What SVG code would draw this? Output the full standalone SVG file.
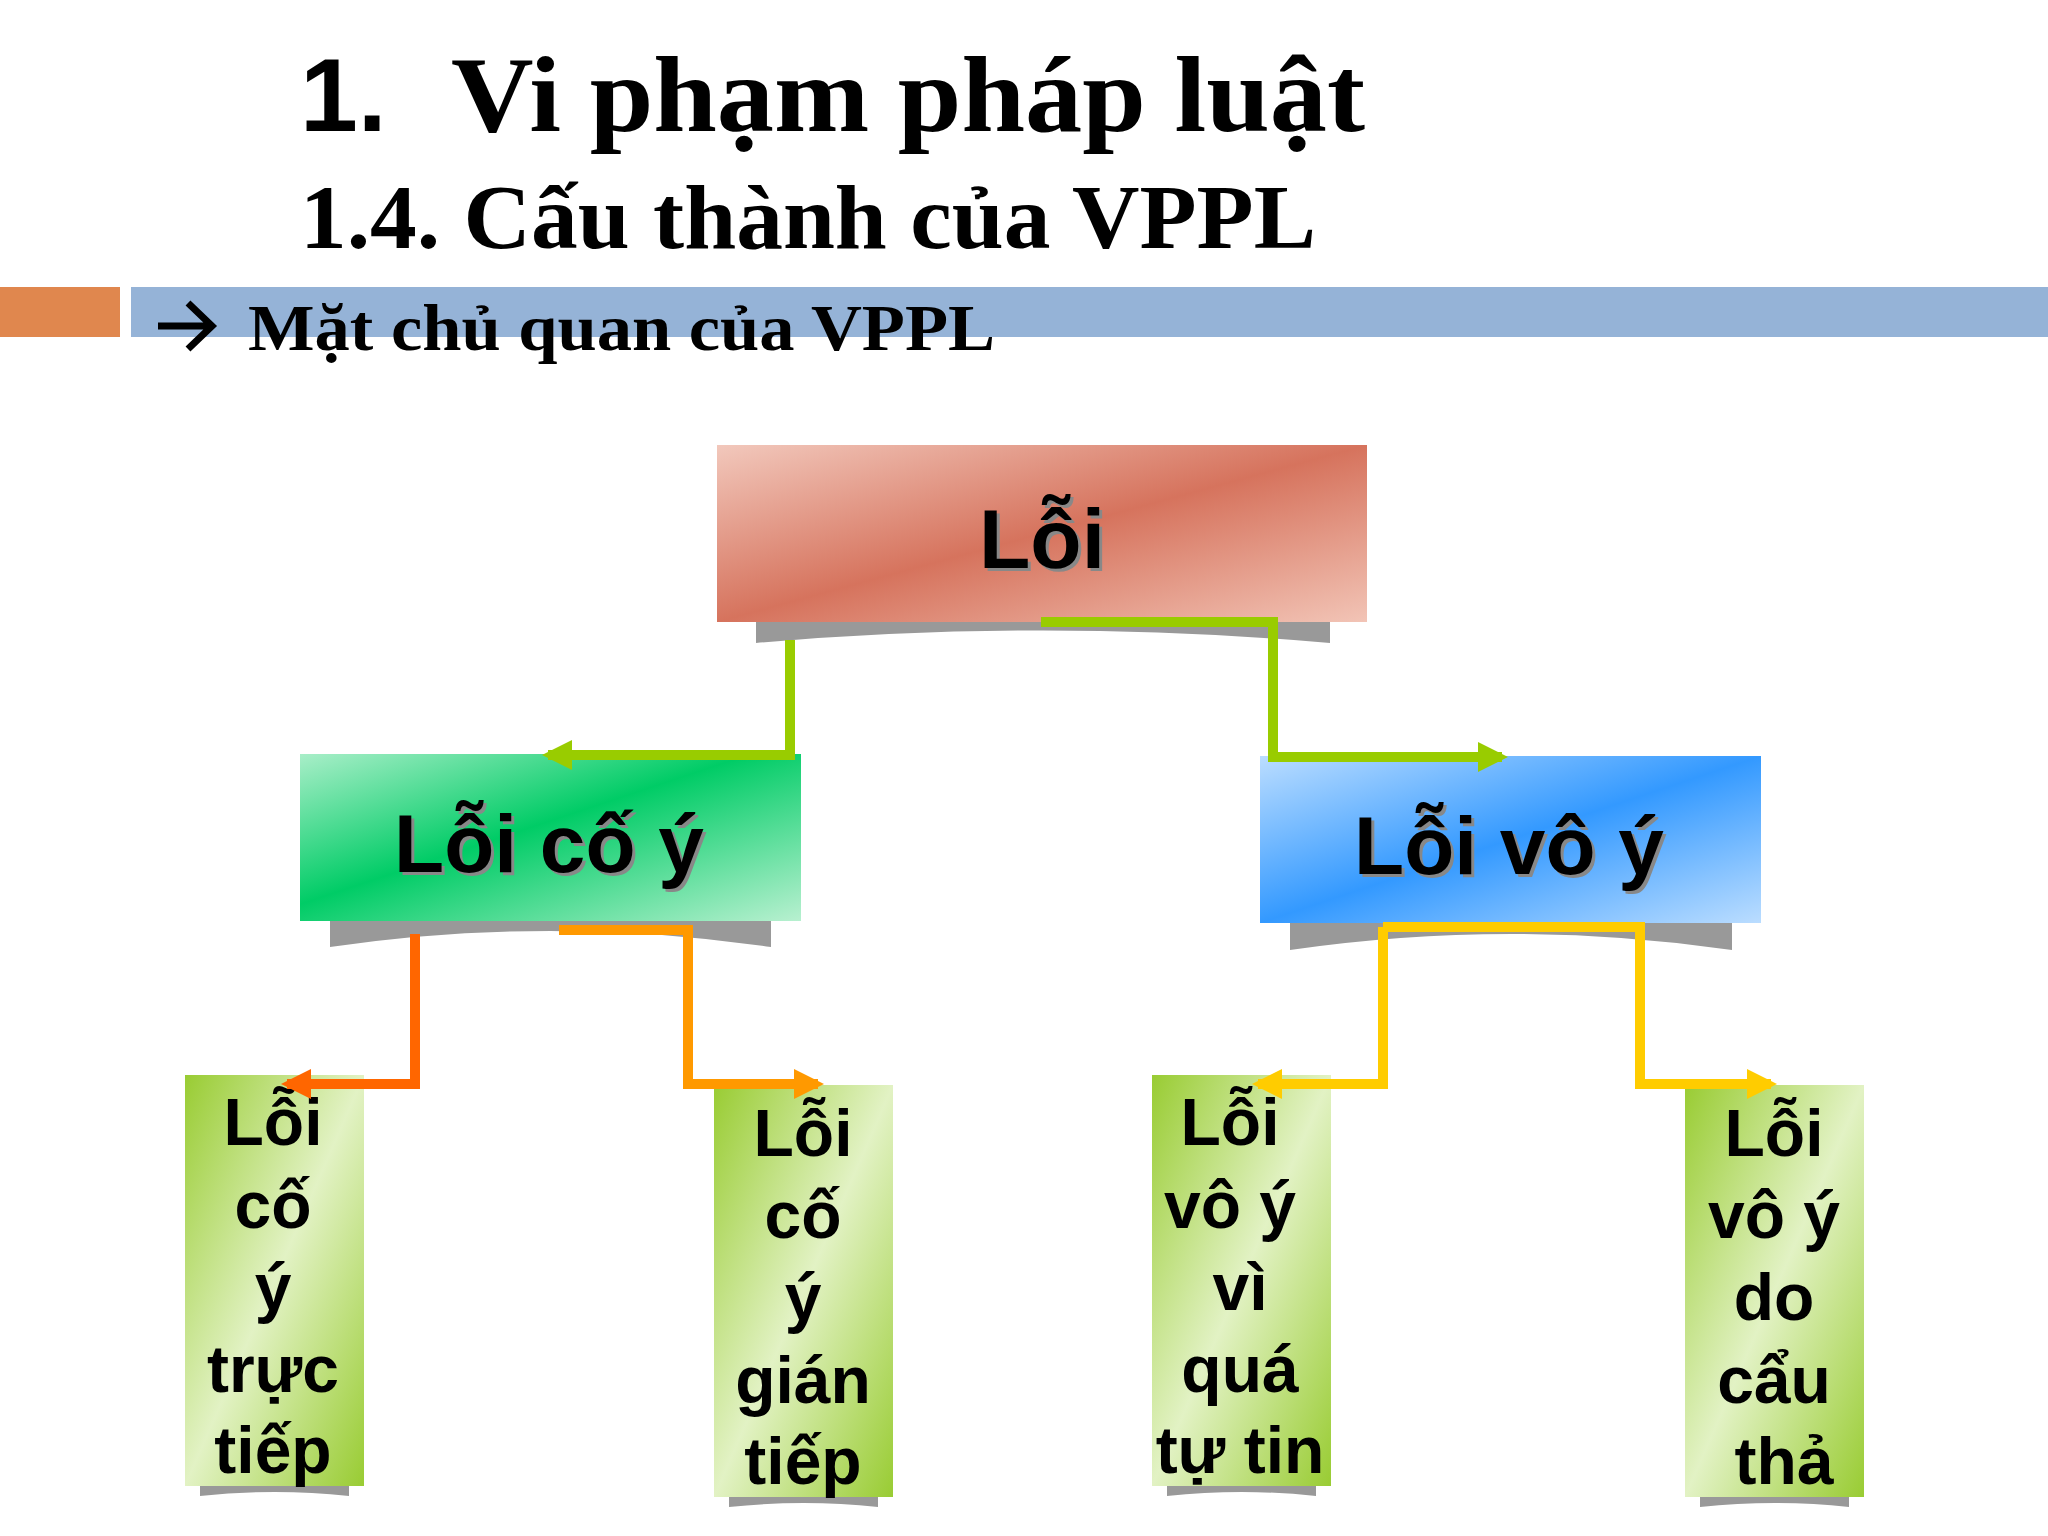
<svg xmlns="http://www.w3.org/2000/svg" width="2048" height="1536" viewBox="0 0 2048 1536">
<defs>
<linearGradient id="gRed" x1="0" y1="0" x2="1" y2="1"><stop offset="0" stop-color="#F2C8BC"/><stop offset="0.5" stop-color="#D6735D"/><stop offset="1" stop-color="#F2C4B6"/></linearGradient>
<linearGradient id="gGreen" x1="0" y1="0" x2="1" y2="1"><stop offset="0" stop-color="#A8EEC8"/><stop offset="0.45" stop-color="#00CC66"/><stop offset="1" stop-color="#B8F0D0"/></linearGradient>
<linearGradient id="gBlue" x1="0" y1="0" x2="1" y2="1"><stop offset="0" stop-color="#BBDDFF"/><stop offset="0.5" stop-color="#3399FF"/><stop offset="1" stop-color="#BBDDFF"/></linearGradient>
<linearGradient id="gLeaf" x1="0" y1="0" x2="1" y2="1"><stop offset="0" stop-color="#99CC33"/><stop offset="0.5" stop-color="#E2F2C4"/><stop offset="1" stop-color="#99CC33"/></linearGradient>
<marker id="aG" viewBox="0 0 10 10" refX="8" refY="5" markerWidth="34" markerHeight="30" markerUnits="userSpaceOnUse" orient="auto"><path d="M0,0 L10,5 L0,10 z" fill="#99CC00"/></marker>
<marker id="aO" viewBox="0 0 10 10" refX="8" refY="5" markerWidth="34" markerHeight="30" markerUnits="userSpaceOnUse" orient="auto"><path d="M0,0 L10,5 L0,10 z" fill="#FF6600"/></marker>
<marker id="aO2" viewBox="0 0 10 10" refX="8" refY="5" markerWidth="34" markerHeight="30" markerUnits="userSpaceOnUse" orient="auto"><path d="M0,0 L10,5 L0,10 z" fill="#FF9900"/></marker>
<marker id="aY" viewBox="0 0 10 10" refX="8" refY="5" markerWidth="34" markerHeight="30" markerUnits="userSpaceOnUse" orient="auto"><path d="M0,0 L10,5 L0,10 z" fill="#FFCC00"/></marker>
</defs>
<style>
.t{font-family:"Liberation Serif",serif;font-weight:bold;fill:#000}
.n{font-family:"Liberation Sans",Arial,sans-serif;font-weight:bold;fill:#000;text-anchor:middle}
.s{fill:#999}
.c{fill:none;stroke-width:10}
</style>
<rect width="2048" height="1536" fill="#fff"/>
<text x="300" y="131" font-size="104" font-family="Liberation Sans,sans-serif" font-weight="bold">1.</text>
<text class="t" x="451" y="131" font-size="108" textLength="914" lengthAdjust="spacingAndGlyphs">Vi phạm pháp luật</text>
<text class="t" x="300" y="248" font-size="90" textLength="1016" lengthAdjust="spacingAndGlyphs">1.4. Cấu thành của VPPL</text>
<rect x="0" y="287" width="120" height="50" fill="#E0874E"/>
<rect x="131" y="287" width="1917" height="50" fill="#95B3D7"/>
<path d="M158,326 L210,326 M188,303 L212,326 L188,349" fill="none" stroke="#000" stroke-width="7"/>
<text class="t" x="248" y="350" font-size="66" textLength="747" lengthAdjust="spacingAndGlyphs">Mặt chủ quan của VPPL</text>

<g id="root">
<path class="s" d="M756,643 L756,622 L1330,622 L1330,643 Q1043,618 756,643 z"/>
<rect x="717" y="445" width="650" height="177" fill="url(#gRed)"/>
<text class="n" x="1045" y="571" font-size="84" style="fill:#888">Lỗi</text>
<text class="n" x="1042" y="568" font-size="84">Lỗi</text>
</g>
<g id="coy">
<path class="s" d="M330,947 L330,921 L771,921 L771,947 Q550,915 330,947 z"/>
<rect x="300" y="754" width="501" height="167" fill="url(#gGreen)"/>
<text class="n" x="552" y="875" font-size="82" style="fill:#888">Lỗi cố ý</text>
<text class="n" x="549" y="872" font-size="82">Lỗi cố ý</text>
</g>
<g id="voy">
<path class="s" d="M1290,950 L1290,923 L1732,923 L1732,950 Q1511,918 1290,950 z"/>
<rect x="1260" y="756" width="501" height="167" fill="url(#gBlue)"/>
<text class="n" x="1512" y="877" font-size="82" style="fill:#888">Lỗi vô ý</text>
<text class="n" x="1509" y="874" font-size="82">Lỗi vô ý</text>
</g>
<g id="leaf1">
<path class="s" d="M200,1496 L200,1486 L349,1486 L349,1496 Q275,1488 200,1496 z"/>
<rect x="185" y="1075" width="179" height="411" fill="url(#gLeaf)"/>
<g class="n" font-size="66"><text x="273" y="1145">Lỗi</text><text x="273" y="1228">cố</text><text x="273" y="1310">ý</text><text x="273" y="1392">trực</text><text x="273" y="1473">tiếp</text></g>
</g>
<g id="leaf2">
<path class="s" d="M729,1507 L729,1497 L878,1497 L878,1507 Q804,1499 729,1507 z"/>
<rect x="714" y="1085" width="179" height="412" fill="url(#gLeaf)"/>
<g class="n" font-size="66"><text x="803" y="1156">Lỗi</text><text x="803" y="1238">cố</text><text x="803" y="1320">ý</text><text x="803" y="1403">gián</text><text x="803" y="1484">tiếp</text></g>
</g>
<g id="leaf3">
<path class="s" d="M1167,1496 L1167,1486 L1316,1486 L1316,1496 Q1242,1488 1167,1496 z"/>
<rect x="1152" y="1075" width="179" height="411" fill="url(#gLeaf)"/>
<g class="n" font-size="66"><text x="1230" y="1145">Lỗi</text><text x="1230" y="1228">vô ý</text><text x="1240" y="1310">vì</text><text x="1240" y="1392">quá</text><text x="1240" y="1473">tự tin</text></g>
</g>
<g id="leaf4">
<path class="s" d="M1700,1507 L1700,1497 L1849,1497 L1849,1507 Q1775,1499 1700,1507 z"/>
<rect x="1685" y="1085" width="179" height="412" fill="url(#gLeaf)"/>
<g class="n" font-size="66"><text x="1774" y="1156">Lỗi</text><text x="1774" y="1238">vô ý</text><text x="1774" y="1320">do</text><text x="1774" y="1403">cẩu</text><text x="1784" y="1484">thả</text></g>
</g>
<g id="connectors">
<path class="c" stroke="#99CC00" d="M790,640 L790,755 L548,755" marker-end="url(#aG)"/>
<path class="c" stroke="#99CC00" d="M1041,622 L1273,622 L1273,757 L1502,757" marker-end="url(#aG)"/>
<path class="c" stroke="#FF6600" d="M415,934 L415,1084 L287,1084" marker-end="url(#aO)"/>
<path class="c" stroke="#FF9900" d="M559,930 L688,930 L688,1084 L818,1084" marker-end="url(#aO2)"/>
<path class="c" stroke="#FFCC00" d="M1383,927 L1383,1084 L1258,1084" marker-end="url(#aY)"/>
<path class="c" stroke="#FFCC00" d="M1383,927 L1640,927 L1640,1084 L1771,1084" marker-end="url(#aY)"/>
</g>
</svg>
